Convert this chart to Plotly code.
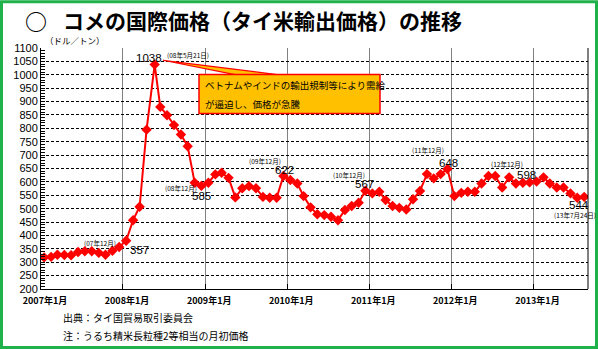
import plotly.graph_objects as go

# ---------------- data ----------------
dates = (
    [f"2007-{m:02d}-15" for m in range(1, 13)]
    + ["2008-01-15", "2008-02-15", "2008-03-15", "2008-04-15", "2008-05-21"]
    + [f"2008-{m:02d}-15" for m in range(6, 13)]
    + [f"{y}-{m:02d}-15" for y in (2009, 2010, 2011, 2012) for m in range(1, 13)]
    + [f"2013-{m:02d}-15" for m in range(1, 8)]
    + ["2013-08-15"]
)
prices = [
    318, 320, 328, 327, 326, 338, 341, 341, 335, 328, 343, 357,          # 2007
    380, 457, 507, 795, 1038, 880, 849, 812, 777, 733, 597, 585,         # 2008
    597, 628, 634, 615, 542, 576, 584, 576, 544, 541, 541, 622,          # 2009
    607, 594, 547, 505, 479, 476, 470, 457, 495, 510, 522, 567,          # 2010
    557, 563, 532, 510, 503, 497, 535, 566, 629, 613, 629, 648,          # 2011
    547, 559, 563, 563, 594, 622, 622, 579, 617, 594, 597, 598,          # 2012
    601, 617, 594, 579, 579, 557, 541, 544,                              # 2013
]
year_ticks = [f"{y}-01-01" for y in range(2007, 2014)]
year_labels = [f"{y}年1月" for y in range(2007, 2014)]

title_text = "コメの国際価格（タイ米輸出価格）の推移"
unit_text = "（ドル／トン）"
callout_lines = ["ベトナムやインドの輸出規制等により需給", "が逼迫し、価格が急騰"]
source_text = "出典：タイ国貿易取引委員会"
note_text = "注：うるち精米長粒種2等相当の月初価格"

# ---------------- layout helpers ----------------
W, H = 598, 349
L, R, T, B = 41, 588, 47.7, 289
def px(x):
    return (x - L) / (R - L)
def py(y):
    return (B - y) / (B - T)

JP = "Noto Sans CJK JP"
NUM = "Liberation Sans"

fig = go.Figure()
fig.add_trace(go.Scatter(
    x=dates, y=prices, mode="lines+markers",
    line=dict(color="#FF0000", width=2),
    marker=dict(symbol="diamond", size=8, color="#FF0000"),
    hoverinfo="x+y", showlegend=False,
))

ann = []
def text(t, x, y, size, font=NUM, xanchor="center", weight="normal", color="#000"):
    ann.append(dict(text=t, x=px(x), y=py(y), xref="paper", yref="paper",
                    xanchor=xanchor, yanchor="middle", showarrow=False,
                    font=dict(family=font, size=size, color=color, weight=weight)))

# title
text("○", 23, 20, 22, font=JP, xanchor="left", weight="bold")
text(title_text, 61, 20, 21, font=JP, xanchor="left", weight="bold")
text(unit_text, 43, 40, 8.5, font=JP, xanchor="left")

# value labels
text("1038", 148.5, 57.5, 11.5)
text("(08年5月21日)", 165, 55, 6.5, font=JP, xanchor="left")
text("(07年12月)", 100, 242.7, 6.5, font=JP)
text("357", 128, 249.5, 11.5, xanchor="left")
text("(08年12月)", 181, 187.5, 6.5, font=JP)
text("585", 201.5, 196, 11.5)
text("(09年12月)", 265, 160.7, 6.5, font=JP)
text("622", 284.3, 170, 11.5)
text("(10年12月)", 348.5, 175, 6.5, font=JP)
text("567", 364, 184.3, 11.5)
text("(11年12月)", 428, 150, 6.5, font=JP)
text("648", 448.3, 162.7, 11.5)
text("(12年12月)", 507, 164.3, 6.5, font=JP)
text("598", 526.5, 175, 11.5)
text("544", 579, 204.5, 11.5)
text("(13年7月24日)", 575, 215, 6.5, font=JP)

# callout text
text(callout_lines[0], 203, 84.5, 9.5, font=JP, xanchor="left")
text(callout_lines[1], 203, 104, 9.5, font=JP, xanchor="left")

# footnotes
text(source_text, 61, 317.5, 10, font=JP, xanchor="left")
text(note_text, 61, 336, 10, font=JP, xanchor="left")

shapes = []
# callout wedge + box
shapes.append(dict(type="path", xref="paper", yref="paper",
                   path=f"M {px(163)},{py(60)} L {px(235)},{py(74.3)} L {px(277)},{py(74.3)} Z",
                   fillcolor="#FFC000", line=dict(color="#FF0000", width=1.2)))
shapes.append(dict(type="rect", xref="paper", yref="paper",
                   x0=px(199), x1=px(380), y0=py(74.3), y1=py(113.3),
                   fillcolor="#FFC000", line=dict(color="#FF0000", width=1.5)))
# right border of plot
shapes.append(dict(type="line", xref="paper", yref="paper", x0=1, x1=1, y0=0, y1=1,
                   line=dict(color="#000", width=1)))
# green frame around the whole image
shapes.append(dict(type="rect", xref="paper", yref="paper",
                   x0=px(1.5), x1=px(W - 1.5), y0=py(H - 1.5), y1=py(1.5),
                   line=dict(color="#1FB24A", width=3), fillcolor="rgba(0,0,0,0)"))

fig.update_layout(
    width=W, height=H,
    margin=dict(l=L, r=W - R, t=T, b=H - B, pad=0),
    paper_bgcolor="white", plot_bgcolor="white",
    annotations=ann, shapes=shapes,
    xaxis=dict(
        type="date", range=["2007-01-01", "2013-09-01"],
        tickmode="array", tickvals=year_ticks, ticktext=year_labels,
        showgrid=True, gridcolor="#808080", gridwidth=1,
        showline=True, linecolor="#000", linewidth=1,
        ticks="inside", ticklen=5, tickcolor="#000",
        tickfont=dict(family=JP, size=9, color="#000", weight="bold"),
        ticklabelshift=4, ticklabelstandoff=3, zeroline=False,
    ),
    yaxis=dict(
        range=[200, 1100], dtick=50, tick0=200,
        showgrid=True, gridcolor="#000", gridwidth=1.2, griddash="3px,2px",
        showline=True, linecolor="#000", linewidth=1,
        ticks="inside", ticklen=4, tickcolor="#000",
        minor=dict(dtick=10, ticks="inside", ticklen=4, tickcolor="#000", showgrid=False),
        tickfont=dict(family=NUM, size=11, color="#000"),
        zeroline=False,
    ),
)

fig.write_html("out.html")
